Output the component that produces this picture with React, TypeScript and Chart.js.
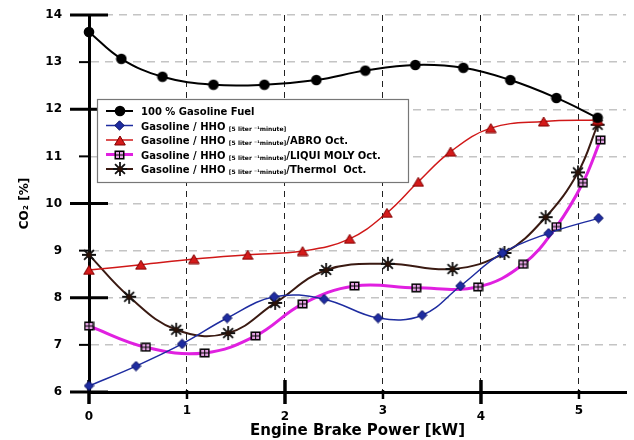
import React, { useEffect, useRef } from 'react';
import { Chart, registerables } from 'chart.js';

Chart.register(...registerables);

// ---- data ----
const xTicks = [0, 1, 2, 3, 4, 5];
const yTicks = [6, 7, 8, 9, 10, 11, 12, 13, 14];

const powerGasoline = [0, 0.33, 0.75, 1.27, 1.79, 2.32, 2.82, 3.33, 3.82, 4.3, 4.77, 5.19];
const co2Gasoline = [13.64, 13.07, 12.69, 12.52, 12.52, 12.62, 12.82, 12.94, 12.88, 12.62, 12.24, 11.82];

const powerHHO = [0, 0.48, 0.95, 1.41, 1.89, 2.4, 2.95, 3.4, 3.79, 4.22, 4.69, 5.2];
const co2HHO = [6.13, 6.55, 7.02, 7.57, 8.02, 7.97, 7.57, 7.63, 8.25, 8.95, 9.37, 9.69];

const powerABRO = [0, 0.53, 1.07, 1.62, 2.18, 2.66, 3.04, 3.36, 3.69, 4.1, 4.64, 5.19];
const co2ABRO = [8.59, 8.7, 8.82, 8.91, 8.99, 9.25, 9.8, 10.46, 11.1, 11.6, 11.74, 11.77];

const powerLiqui = [0, 0.58, 1.18, 1.7, 2.18, 2.71, 3.34, 3.97, 4.43, 4.77, 5.04, 5.22];
const co2Liqui = [7.4, 6.95, 6.83, 7.19, 7.87, 8.25, 8.21, 8.23, 8.71, 9.51, 10.44, 11.35];

const powerThermol = [0, 0.41, 0.89, 1.42, 1.9, 2.42, 3.05, 3.71, 4.24, 4.66, 4.99, 5.19];
const co2Thermol = [8.91, 8.02, 7.32, 7.25, 7.89, 8.59, 8.72, 8.61, 8.95, 9.71, 10.66, 11.67];

const nameMain = ['100 % Gasoline Fuel', 'Gasoline / HHO ', 'Gasoline / HHO ', 'Gasoline / HHO ', 'Gasoline / HHO '];
const nameSub = ['', '[5 liter \u207B\u00B9minute]', '[5 liter \u207B\u00B9minute]', '[5 liter \u207B\u00B9minute]', '[5 liter \u207B\u00B9minute]'];
const nameSuffix = ['', '', '/ABRO Oct.', '/LIQUI MOLY Oct.', '/Thermol  Oct.'];

const xTitle = 'Engine Brake Power [kW]';
const yTitle = 'CO\u2082 [%]';

const FONT = "'DejaVu Sans', 'Liberation Sans', sans-serif";

function makeMarker(kind: string): HTMLCanvasElement {
  const c = document.createElement('canvas');
  const ctx = c.getContext('2d') as CanvasRenderingContext2D;
  if (kind === 'circle') {
    c.width = 12; c.height = 12;
    ctx.fillStyle = '#000';
    ctx.beginPath(); ctx.arc(6, 6, 5.3, 0, Math.PI * 2); ctx.fill();
  } else if (kind === 'diamond') {
    c.width = 11; c.height = 11;
    ctx.fillStyle = '#1e2ca0'; ctx.strokeStyle = '#0a1060'; ctx.lineWidth = 1;
    ctx.beginPath(); ctx.moveTo(5.5, 0.8); ctx.lineTo(10.2, 5.5); ctx.lineTo(5.5, 10.2); ctx.lineTo(0.8, 5.5); ctx.closePath();
    ctx.fill(); ctx.stroke();
  } else if (kind === 'triangle') {
    c.width = 12; c.height = 11;
    ctx.fillStyle = '#d41a1a'; ctx.strokeStyle = '#800000'; ctx.lineWidth = 1;
    ctx.beginPath(); ctx.moveTo(6, 1); ctx.lineTo(11.3, 10); ctx.lineTo(0.7, 10); ctx.closePath();
    ctx.fill(); ctx.stroke();
  } else if (kind === 'square') {
    c.width = 11; c.height = 10;
    ctx.fillStyle = '#e6a4e6';
    ctx.fillRect(1, 1, 9, 8);
    ctx.strokeStyle = '#000'; ctx.lineWidth = 1.5;
    ctx.strokeRect(1.25, 1.25, 8.5, 7.5);
    ctx.lineWidth = 1;
    ctx.beginPath();
    ctx.moveTo(5.5, 2); ctx.lineTo(5.5, 8);
    ctx.moveTo(2, 5); ctx.lineTo(9, 5);
    ctx.stroke();
  } else if (kind === 'asterisk') {
    c.width = 16; c.height = 16;
    ctx.strokeStyle = '#111'; ctx.lineWidth = 1.8;
    ctx.beginPath();
    for (let i = 0; i < 8; i++) {
      const a = (i * Math.PI) / 4;
      ctx.moveTo(8, 8);
      ctx.lineTo(8 + Math.cos(a) * 7, 8 + Math.sin(a) * 7);
    }
    ctx.stroke();
    ctx.fillStyle = '#2a1208';
    ctx.beginPath(); ctx.arc(8, 8, 2.6, 0, Math.PI * 2); ctx.fill();
  }
  return c;
}

function pairs(xs: number[], ys: number[]) {
  return xs.map((x, i) => ({ x, y: ys[i] }));
}

export default function App() {
  const ref = useRef<HTMLCanvasElement | null>(null);

  useEffect(() => {
    const canvas = ref.current;
    if (!canvas) return;

    const markers = {
      circle: makeMarker('circle'),
      diamond: makeMarker('diamond'),
      triangle: makeMarker('triangle'),
      square: makeMarker('square'),
      asterisk: makeMarker('asterisk'),
    };

    const styles = [
      { color: '#000000', width: 2, marker: markers.circle },
      { color: '#1e2ca0', width: 1.5, marker: markers.diamond },
      { color: '#d01818', width: 1.5, marker: markers.triangle },
      { color: '#e020e0', width: 3, marker: markers.square },
      { color: '#3a1a12', width: 2, marker: markers.asterisk },
    ];

    const xs = [powerGasoline, powerHHO, powerABRO, powerLiqui, powerThermol];
    const ys = [co2Gasoline, co2HHO, co2ABRO, co2Liqui, co2Thermol];

    const datasets = styles.map((s, i) => ({
      label: nameMain[i] + nameSub[i] + nameSuffix[i],
      data: pairs(xs[i], ys[i]),
      borderColor: s.color,
      backgroundColor: s.color,
      borderWidth: s.width,
      pointStyle: s.marker,
      pointRadius: 5,
      tension: 0.4,
      clip: false as any,
    }));

    const axisPlugin = {
      id: 'axisTicks',
      beforeDatasetsDraw(chart: any) {
        const { ctx, chartArea, scales } = chart;
        const xs = scales.x, ysc = scales.y;
        ctx.save();
        ctx.strokeStyle = '#000';
        ctx.lineCap = 'butt';
        // y ticks
        ysc.ticks.forEach((t: any) => {
          const py = ysc.getPixelForValue(t.value);
          const major = t.value % 2 === 0;
          ctx.lineWidth = major ? 3 : 2;
          ctx.beginPath();
          ctx.moveTo(chartArea.left - (major ? 19 : 10), py);
          ctx.lineTo(chartArea.left + (major ? 19 : 0), py);
          ctx.stroke();
        });
        // x ticks
        xs.ticks.forEach((t: any) => {
          const px = xs.getPixelForValue(t.value);
          const major = t.value % 2 === 0;
          ctx.lineWidth = major ? 3.5 : 2.5;
          ctx.beginPath();
          ctx.moveTo(px, chartArea.bottom - (major ? 12 : 2));
          ctx.lineTo(px, chartArea.bottom + (major ? 12 : 7));
          ctx.stroke();
        });
        ctx.restore();
      },
      afterDraw(chart: any) {
        const { ctx, chartArea, scales } = chart;
        const xs = scales.x;
        ctx.save();
        // x tick labels
        ctx.fillStyle = '#000';
        ctx.font = `bold 12px ${FONT}`;
        ctx.textAlign = 'center';
        ctx.textBaseline = 'middle';
        xs.ticks.forEach((t: any) => {
          const px = xs.getPixelForValue(t.value);
          const major = t.value % 2 === 0;
          ctx.fillText(String(t.value), px, chartArea.bottom + (major ? 25 : 19));
        });

        // legend
        const bx = chartArea.left + 8;
        const by = chartArea.top + 84;
        const bw = 311;
        const bh = 83;
        ctx.fillStyle = '#ffffff';
        ctx.fillRect(bx, by, bw, bh);
        ctx.strokeStyle = '#777';
        ctx.lineWidth = 1.2;
        ctx.strokeRect(bx + 0.5, by + 0.5, bw, bh);
        chart.data.datasets.forEach((ds: any, i: number) => {
          const ry = by + 12 + i * 14.5;
          const lx0 = bx + 9;
          const lx1 = bx + 36;
          ctx.strokeStyle = ds.borderColor;
          ctx.lineWidth = ds.borderWidth;
          ctx.beginPath();
          ctx.moveTo(lx0, ry);
          ctx.lineTo(lx1, ry);
          ctx.stroke();
          const m = ds.pointStyle as HTMLCanvasElement;
          ctx.drawImage(m, Math.round((lx0 + lx1) / 2 - m.width / 2), Math.round(ry - m.height / 2));
          let tx = bx + 44;
          ctx.fillStyle = '#000';
          ctx.textAlign = 'left';
          ctx.textBaseline = 'alphabetic';
          ctx.font = `bold 10px ${FONT}`;
          ctx.fillText(nameMain[i], tx, ry + 4);
          tx += ctx.measureText(nameMain[i]).width;
          if (nameSub[i]) {
            ctx.font = `bold 6px ${FONT}`;
            ctx.fillText(nameSub[i], tx, ry + 5);
            tx += ctx.measureText(nameSub[i]).width;
          }
          if (nameSuffix[i]) {
            ctx.font = `bold 10px ${FONT}`;
            ctx.fillText(nameSuffix[i], tx, ry + 4);
          }
        });
        ctx.restore();
      },
    };

    const chart = new Chart(canvas, {
      type: 'line',
      data: { datasets: datasets as any },
      options: {
        responsive: false,
        animation: false,
        devicePixelRatio: 1,
        layout: { padding: { top: 15, right: 4, left: 0, bottom: 0 } },
        plugins: {
          legend: { display: false },
          tooltip: { enabled: false },
        },
        scales: {
          x: {
            type: 'linear',
            min: 0,
            max: 5.48,
            afterFit: (s: any) => { s.height = 48; },
            afterBuildTicks: (s: any) => { s.ticks = xTicks.map((v) => ({ value: v })); },
            ticks: { display: false, stepSize: 1, includeBounds: false, padding: 0 },
            grid: { color: '#222', lineWidth: 1, drawTicks: false },
            border: { display: true, color: '#000', width: 3, dash: [6, 5] },
            title: {
              display: true,
              text: xTitle,
              color: '#000',
              font: { family: FONT, size: 15, weight: 'bold' },
              padding: { top: 0, bottom: 0 },
            },
          },
          y: {
            type: 'linear',
            min: 6,
            max: 14,
            afterFit: (s: any) => { s.width = 89; },
            afterBuildTicks: (s: any) => { s.ticks = yTicks.map((v) => ({ value: v })); },
            ticks: {
              color: '#000',
              padding: 0,
              font: { family: FONT, size: 12, weight: 'bold' },
            },
            grid: {
              color: '#c4c4c4',
              lineWidth: 1.5,
              drawTicks: true,
              tickLength: 27,
              tickColor: 'rgba(0,0,0,0)',
            },
            border: { display: true, color: '#000', width: 3, dash: [8, 6] },
            title: {
              display: true,
              text: yTitle,
              color: '#000',
              font: { family: FONT, size: 12, weight: 'bold' },
              padding: { top: 18, bottom: 0 },
            },
          },
        },
      },
      plugins: [axisPlugin],
    });

    return () => chart.destroy();
  }, []);

  return (
    <div style={{ position: 'absolute', left: 0, top: 0, width: 634, height: 440, background: '#fff' }}>
      <canvas ref={ref} width={634} height={440} />
    </div>
  );
}
